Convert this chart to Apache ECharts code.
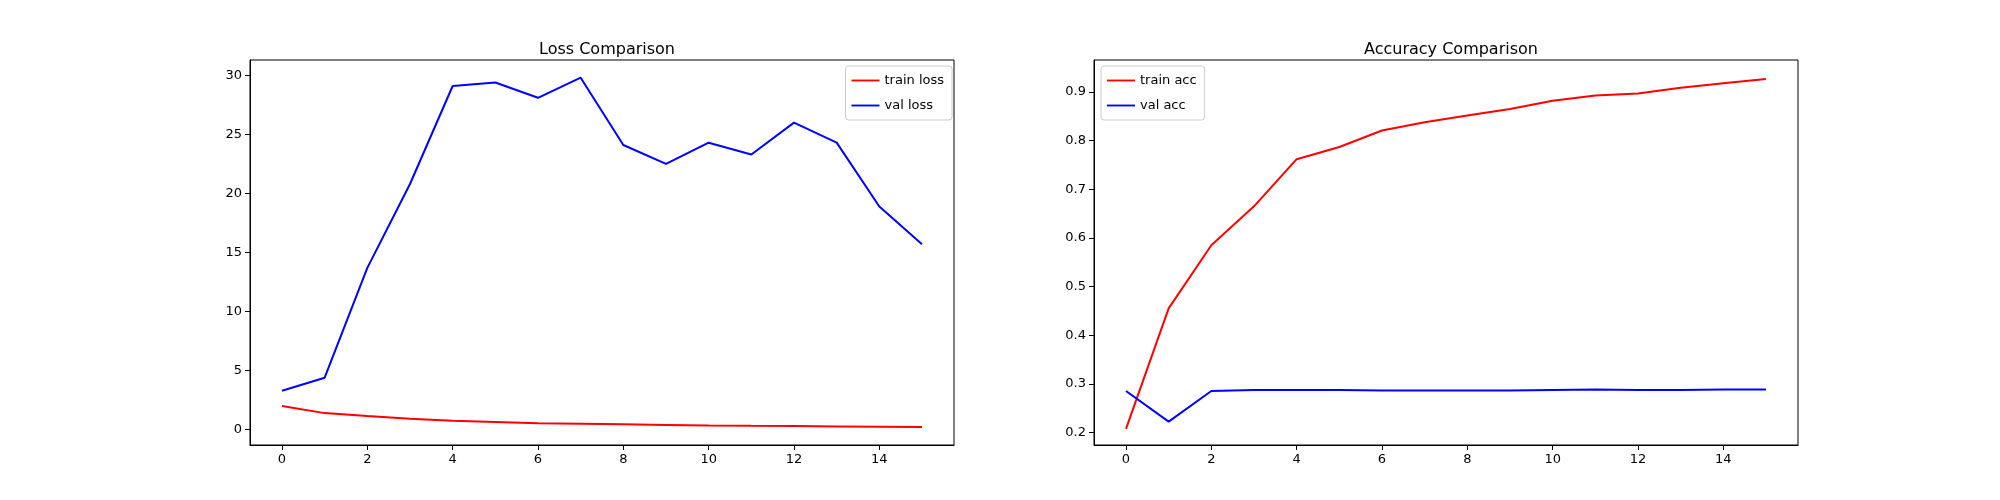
<!DOCTYPE html>
<html>
<head>
<meta charset="utf-8">
<script src="https://cdn.jsdelivr.net/npm/echarts@6/dist/echarts.min.js"></script>
<style>html,body{margin:0;background:#fff}#main{width:2000px;height:500px}</style>
</head>
<body>
<div id="main"></div>
<script>
const epochs = [0,1,2,3,4,5,6,7,8,9,10,11,12,13,14,15]
const trainLoss = [2.0,1.4,1.15,0.92,0.75,0.65,0.55,0.5,0.45,0.4,0.35,0.32,0.3,0.27,0.25,0.22]
const valLoss = [3.3,4.4,13.7,20.8,29.1,29.4,28.1,29.8,24.1,22.5,24.3,23.3,26.0,24.3,18.9,15.7]
const trainAcc = [0.207,0.455,0.585,0.665,0.762,0.787,0.821,0.838,0.852,0.865,0.882,0.893,0.897,0.909,0.918,0.927]
const valAcc = [0.285,0.222,0.285,0.287,0.287,0.287,0.286,0.286,0.286,0.286,0.287,0.288,0.287,0.287,0.288,0.288]
const xTicks = [0,2,4,6,8,10,12,14]
const lossTicks = [0,5,10,15,20,25,30]
const accTicks = [0.2,0.3,0.4,0.5,0.6,0.7,0.8,0.9]

const font = "DejaVu Sans"
const pair = (xs, ys) => xs.map((x, i) => [x, ys[i]])
const lineIcon = "path://M0,0 L30,0 L30,2 L0,2 Z"

const xAxis = gi => ({
  type: "value", gridIndex: gi, min: -0.75, max: 15.75,
  axisLine: { onZero: false, lineStyle: { color: "#000" } },
  axisTick: { customValues: xTicks, length: 5, lineStyle: { color: "#000" } },
  axisLabel: { customValues: xTicks, color: "#000", fontFamily: font, fontSize: 13, margin: 8 },
  splitLine: { show: false }
})
const yAxis = (gi, min, max, ticks, dec) => ({
  type: "value", gridIndex: gi, min, max,
  axisLine: { show: true, onZero: false, lineStyle: { color: "#000" } },
  axisTick: { show: true, customValues: ticks, length: 5, lineStyle: { color: "#000" } },
  axisLabel: { customValues: ticks, color: "#000", fontFamily: font, fontSize: 13, margin: 8,
    formatter: v => v.toFixed(dec) },
  splitLine: { show: false }
})
const line = (name, data, color, xi) => ({
  type: "line", name, data, xAxisIndex: xi, yAxisIndex: xi,
  symbol: "none", lineStyle: { color, width: 2 }, itemStyle: { color }, animation: false
})

const chart = echarts.init(document.getElementById("main"))
chart.setOption({
  animation: false,
  title: [
    { text: "Loss Comparison", left: 602, top: 37, textAlign: "center",
      textStyle: { fontFamily: font, fontSize: 16, fontWeight: "normal", color: "#000" } },
    { text: "Accuracy Comparison", left: 1446, top: 37, textAlign: "center",
      textStyle: { fontFamily: font, fontSize: 16, fontWeight: "normal", color: "#000" } }
  ],
  grid: [
    { left: 250, width: 704, top: 60, height: 385, show: true, borderColor: "#000", borderWidth: 1 },
    { left: 1094, width: 704, top: 60, height: 385, show: true, borderColor: "#000", borderWidth: 1 }
  ],
  legend: [
    { data: ["train loss", "val loss"], orient: "vertical", right: 1048, top: 66,
      icon: lineIcon, itemWidth: 28, itemHeight: 2, itemGap: 12,
      borderColor: "#ccc", borderWidth: 1, borderRadius: 3, padding: [8, 8, 8, 6],
      textStyle: { fontFamily: font, fontSize: 13, color: "#000" } },
    { data: ["train acc", "val acc"], orient: "vertical", left: 1101, top: 66,
      icon: lineIcon, itemWidth: 28, itemHeight: 2, itemGap: 12,
      borderColor: "#ccc", borderWidth: 1, borderRadius: 3, padding: [8, 8, 8, 6],
      textStyle: { fontFamily: font, fontSize: 13, color: "#000" } }
  ],
  xAxis: [xAxis(0), xAxis(1)],
  yAxis: [yAxis(0, -1.3, 31.3, lossTicks, 0), yAxis(1, 0.174, 0.966, accTicks, 1)],
  series: [
    line("train loss", pair(epochs, trainLoss), "#ff0000", 0),
    line("val loss", pair(epochs, valLoss), "#0000ff", 0),
    line("train acc", pair(epochs, trainAcc), "#ff0000", 1),
    line("val acc", pair(epochs, valAcc), "#0000ff", 1)
  ]
})
</script>
</body>
</html>
